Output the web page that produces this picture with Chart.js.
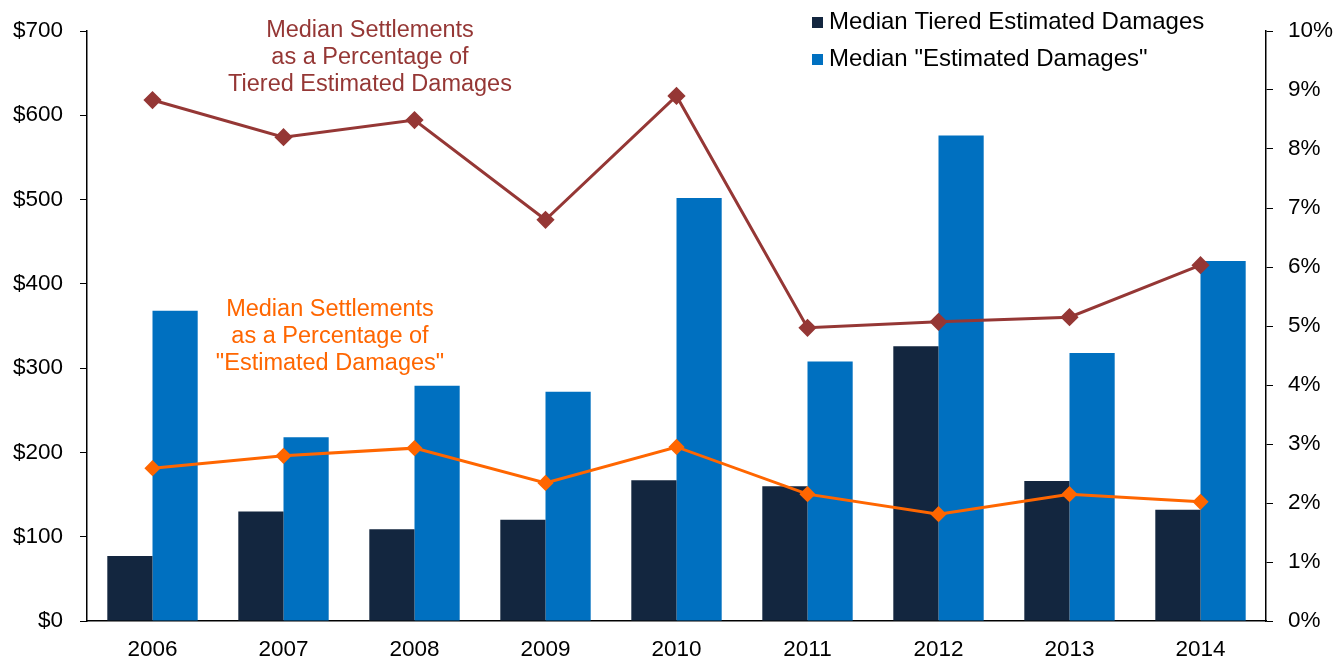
<!DOCTYPE html>
<html>
<head>
<meta charset="utf-8">
<script src="https://cdn.jsdelivr.net/npm/chart.js@4"></script>
<style>
  html, body { margin: 0; padding: 0; background: #fff; }
  #wrap { width: 1336px; height: 659px; }
</style>
</head>
<body>
<div id="wrap"><canvas id="chart" width="1336" height="659"></canvas></div>
<script>
const years = ['2006', '2007', '2008', '2009', '2010', '2011', '2012', '2013', '2014'];
const tieredDamages = [77, 130, 109, 120, 167, 160, 326, 166, 132];
const estDamages = [368, 218, 279, 272, 502, 308, 576, 318, 427];
const pctTiered = [8.83, 8.2, 8.49, 6.8, 8.9, 4.97, 5.07, 5.15, 6.03];
const pctEstimated = [2.59, 2.8, 2.93, 2.34, 2.95, 2.15, 1.81, 2.15, 2.02];

const NAVY = '#13263F';
const BLUE = '#0070C0';
const RED = '#953735';
const ORANGE = '#FF6600';
const FONT = '"Liberation Sans", Arial, sans-serif';

// legend + text labels, drawn by hand like the original
const labelsPlugin = {
    id: 'labels',
    afterDraw(chart) {
        const ctx = chart.ctx;
        ctx.save();
        ctx.font = '24px ' + FONT;
        ctx.textBaseline = 'middle';

        // legend
        ctx.textAlign = 'left';
        ctx.fillStyle = NAVY;
        ctx.fillRect(812, 17, 11, 11);
        ctx.fillStyle = '#000';
        ctx.fillText('Median Tiered Estimated Damages', 829, 22);
        ctx.fillStyle = BLUE;
        ctx.fillRect(812, 54, 11, 11);
        ctx.fillStyle = '#000';
        ctx.fillText('Median "Estimated Damages"', 829, 59);

        // line captions
        ctx.font = '23.5px ' + FONT;
        ctx.textAlign = 'center';
        ctx.fillStyle = RED;
        ['Median Settlements', 'as a Percentage of', 'Tiered Estimated Damages']
            .forEach((t, i) => ctx.fillText(t, 370, 31 + i * 27));
        ctx.fillStyle = ORANGE;
        ['Median Settlements', 'as a Percentage of', '"Estimated Damages"']
            .forEach((t, i) => ctx.fillText(t, 330, 310 + i * 27));
        ctx.restore();
    }
};

const ctx = document.getElementById('chart').getContext('2d');
new Chart(ctx, {
    type: 'bar',
    data: {
        labels: years,
        datasets: [
            {
                type: 'line',
                label: 'Median Settlements as a Percentage of Tiered Estimated Damages',
                data: pctTiered,
                yAxisID: 'y1',
                borderColor: RED,
                backgroundColor: RED,
                borderWidth: 3,
                pointStyle: 'rectRot',
                pointRadius: 7,
                tension: 0,
                order: 0
            },
            {
                type: 'line',
                label: 'Median Settlements as a Percentage of "Estimated Damages"',
                data: pctEstimated,
                yAxisID: 'y1',
                borderColor: ORANGE,
                backgroundColor: ORANGE,
                borderWidth: 3,
                pointStyle: 'rectRot',
                pointRadius: 6,
                tension: 0,
                order: 0
            },
            {
                label: 'Median Tiered Estimated Damages',
                data: tieredDamages,
                yAxisID: 'y',
                backgroundColor: NAVY,
                categoryPercentage: 0.69,
                barPercentage: 1,
                order: 1
            },
            {
                label: 'Median "Estimated Damages"',
                data: estDamages,
                yAxisID: 'y',
                backgroundColor: BLUE,
                categoryPercentage: 0.69,
                barPercentage: 1,
                order: 1
            }
        ]
    },
    options: {
        responsive: false,
        animation: false,
        layout: { padding: { top: 31, right: 0, bottom: 0, left: 0 } },
        plugins: {
            legend: { display: false },
            tooltip: { enabled: false }
        },
        scales: {
            x: {
                grid: { display: false },
                border: { display: true, color: '#000', width: 1.5 },
                ticks: { color: '#000', font: { family: FONT, size: 22.5 }, padding: 7 },
                afterFit(scale) { scale.height = 38; }
            },
            y: {
                position: 'left',
                min: 0,
                max: 700,
                grid: { display: true, drawOnChartArea: false, drawTicks: true, tickLength: 7, color: '#000' },
                border: { display: true, color: '#000', width: 1.5 },
                ticks: {
                    stepSize: 100,
                    color: '#000',
                    padding: 17,
                    font: { family: FONT, size: 22.5 },
                    callback: v => '$' + v
                },
                afterFit(scale) { scale.width = 87; }
            },
            y1: {
                position: 'right',
                min: 0,
                max: 10,
                grid: { display: true, drawOnChartArea: false, drawTicks: true, tickLength: 7, color: '#000' },
                border: { display: true, color: '#000', width: 1.5 },
                ticks: {
                    stepSize: 1,
                    color: '#000',
                    padding: 15,
                    font: { family: FONT, size: 22.5 },
                    callback: v => v + '%'
                },
                afterFit(scale) { scale.width = 70; }
            }
        }
    },
    plugins: [labelsPlugin]
});
</script>
</body>
</html>
